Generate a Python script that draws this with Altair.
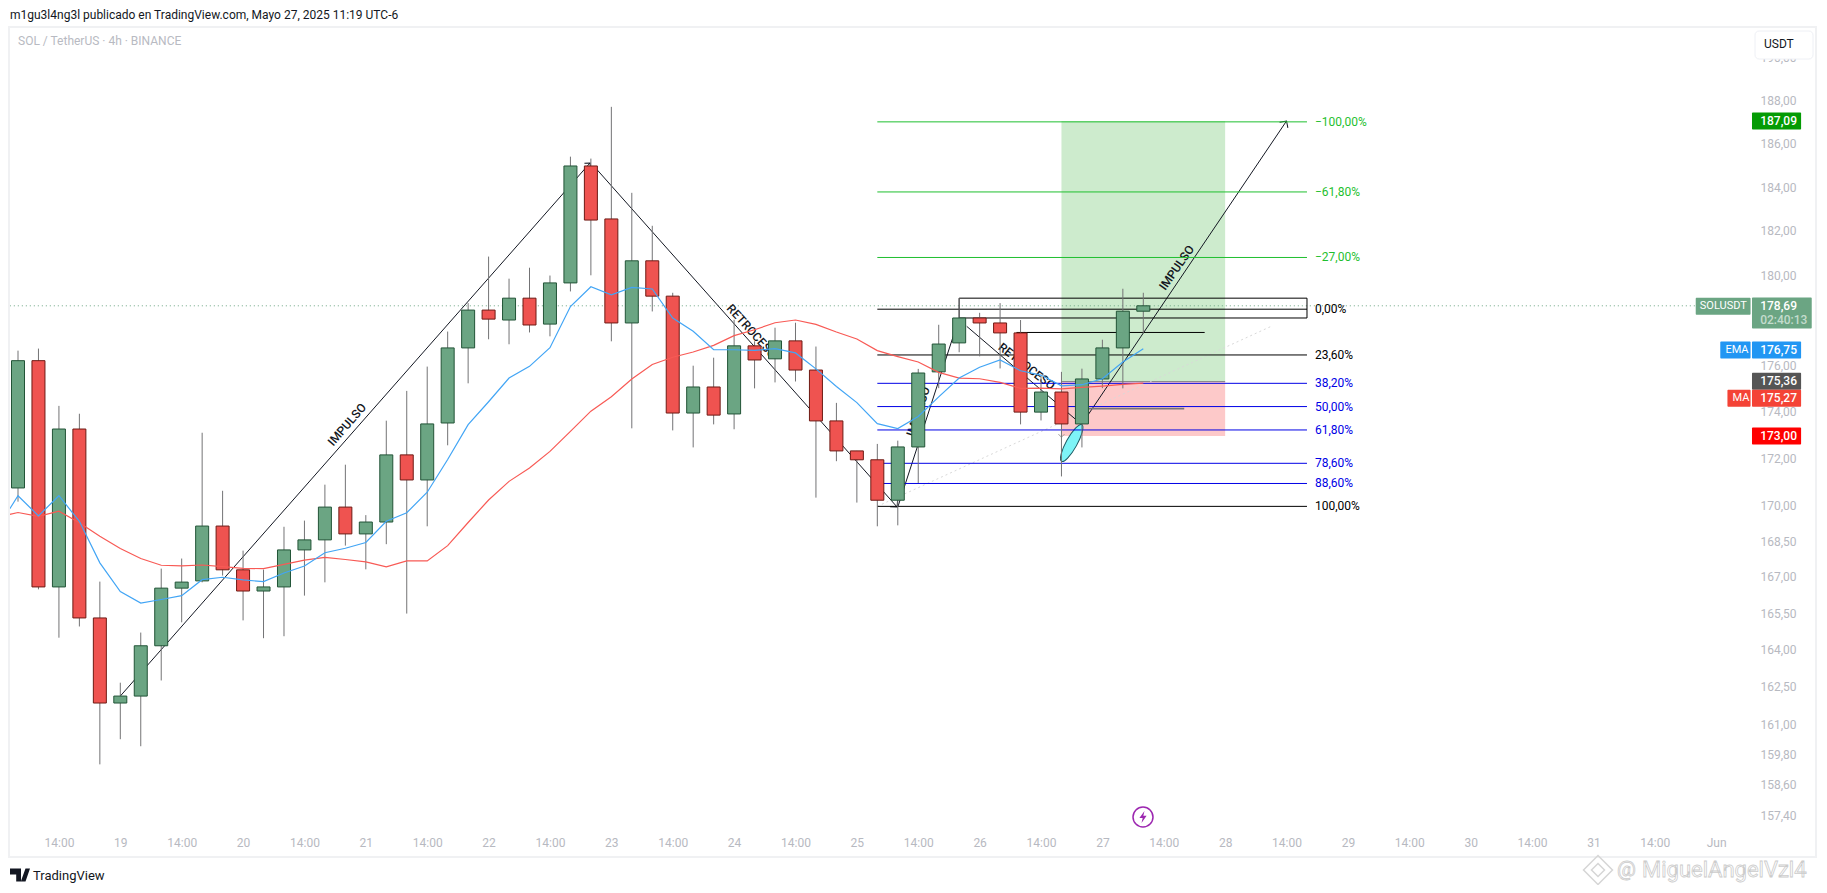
import json
import altair as alt
import pandas as pd

# ---- candles (price values) ----
opens = [170.78,176.27,166.63,173.30,165.35,161.89,162.17,164.21,166.58,166.88,169.17,167.34,166.46,166.63,168.17,168.59,169.97,168.84,169.34,172.19,171.12,173.56,176.83,178.50,178.06,179.03,177.88,179.71,185.01,182.59,177.93,180.70,179.12,173.99,175.12,173.95,176.92,176.35,177.14,175.86,173.65,172.36,171.98,170.26,172.53,175.78,177.05,178.15,177.93,177.49,174.03,174.90,173.52,175.47,176.83,178.45]
closes = [176.27,166.63,173.30,165.35,161.89,162.17,164.21,166.58,166.83,169.17,167.34,166.46,166.63,168.17,168.59,169.97,168.84,169.34,172.19,171.12,173.52,176.83,178.50,178.10,179.03,177.84,179.71,185.01,182.54,177.93,180.70,179.12,173.99,175.12,173.90,176.92,176.30,177.14,175.86,173.65,172.36,171.98,170.26,172.53,175.73,177.00,178.15,177.93,177.49,174.03,174.90,173.52,175.47,176.83,178.45,178.69]
highs = [176.71,176.80,174.30,173.96,166.85,162.71,164.75,167.39,167.81,173.14,170.66,168.14,167.35,169.14,169.40,170.92,171.77,169.63,173.66,174.95,176.01,177.55,178.81,180.89,179.90,180.39,180.04,185.44,185.35,187.75,183.78,182.28,179.27,176.05,176.40,178.07,177.12,177.72,177.94,176.89,174.43,172.36,172.66,172.80,175.91,177.85,179.03,178.38,178.81,178.06,175.61,175.78,175.92,177.19,179.45,179.27]
lows = [170.20,166.53,164.54,165.00,159.44,160.44,160.16,162.80,165.17,166.82,167.10,165.25,164.52,164.60,166.27,166.82,168.35,167.36,168.41,165.53,169.16,172.60,175.28,177.21,176.99,177.51,177.34,179.33,180.05,177.12,173.33,178.44,173.24,172.51,173.50,173.29,175.06,175.32,175.36,170.37,171.92,170.16,169.16,169.20,170.99,175.07,176.64,176.46,175.93,173.50,173.67,171.27,172.51,175.07,175.06,177.49]

# ---- moving averages ----
ema_bars = [-0.4] + list(range(56))
ema = [169.90,170.45,169.60,170.45,169.37,167.63,166.44,165.96,166.11,166.27,166.93,167.03,166.92,166.85,167.21,167.50,168.05,168.24,168.48,169.37,169.73,170.60,171.99,173.49,174.48,175.51,176.02,176.84,178.66,179.54,179.18,179.51,179.44,178.15,177.56,176.75,176.75,176.72,176.80,176.61,175.91,175.14,174.44,173.53,173.32,173.84,174.69,175.51,175.98,176.30,175.83,175.64,175.17,175.22,175.48,176.21,176.79]
ma = [169.66,169.74,169.58,169.80,169.31,168.74,168.23,167.81,167.53,167.50,167.54,167.47,167.40,167.39,167.57,167.74,167.86,167.77,167.67,167.46,167.71,167.71,168.35,169.32,170.27,171.06,171.63,172.34,173.20,174.07,174.70,175.47,176.10,176.42,176.65,176.94,177.37,177.63,177.94,178.06,177.87,177.53,177.22,176.71,176.45,176.21,175.76,175.51,175.48,175.32,175.06,175.07,175.04,175.10,175.16,175.23,175.29]

# ---- fibonacci levels ----
fib_labels = ["−100,00%","−61,80%","−27,00%","0,00%","23,60%","38,20%","50,00%","61,80%","78,60%","88,60%","100,00%"]
fib_prices = [187.05,183.82,180.85,178.54,176.52,175.28,174.27,173.26,171.83,170.97,170.00]
fib_kinds = ["g","g","g","k","k","b","b","b","b","b","k"]

# ---- axes ----
price_ticks = [190,188,186,184,182,180,176,174,172,170,168.5,167,165.5,164,162.5,161,159.8,158.6,157.4]
time_ticks = [2,5,8,11,14,17,20,23,26,29,32,35,38,41,44,47,50,53,56,59,62,65,68,71,74,77,80,83]
time_labels = ["14:00","19","14:00","20","14:00","21","14:00","22","14:00","23","14:00","24","14:00","25","14:00","26","14:00","27","14:00","28","14:00","29","14:00","30","14:00","31","14:00","Jun"]

W, H = 1811, 877
FONT = "Roboto"
xs = alt.Scale(domain=[-0.489, 88.025], nice=False, zero=False, padding=0)
ys = alt.Scale(type="log", domain=[154.73, 192.42], nice=False, zero=False, padding=0)

x_lookup = {str(k): v for k, v in zip(time_ticks, time_labels)}
x_axis = alt.Axis(
    orient="bottom", values=time_ticks, labelExpr=json.dumps(x_lookup) + "[datum.value]", title=None,
    offset=-48, domain=False, ticks=False, grid=False, labelPadding=0, labelFont=FONT, labelFontSize=12,
    labelColor="#b7b9c1", labelOverlap=False, labelFlush=False, labelBound=False, labelBaseline="top")
y_axis = alt.Axis(
    orient="right", values=price_ticks, labelExpr="replace(format(datum.value,'.2f'),'.',',')", title=None,
    offset=-60, domain=False, ticks=False, grid=False, labelPadding=1, labelFont=FONT, labelFontSize=12,
    labelOffset=-1, labelColor="#b7b9c1", labelOverlap=False, labelFlush=False, labelBound=False, labelAlign="left")


def X(f="x"):
    return alt.X(f"{f}:Q", scale=xs, axis=x_axis)


def Y(f="y"):
    return alt.Y(f"{f}:Q", scale=ys, axis=y_axis)


def seg(x0, y0, x1, y1, color="#131722", width=1.0, dash=None):
    d = pd.DataFrame({"x": [x0, x1], "y": [y0, y1]})
    kw = {"strokeDash": dash} if dash else {}
    return alt.Chart(d).mark_line(color=color, strokeWidth=width, **kw).encode(x=X(), y=Y())


def hline(x0, x1, y, color="#131722", width=1.0, dash=None):
    d = pd.DataFrame({"x": [x0], "x2": [x1], "y": [y]})
    kw = {"strokeDash": dash} if dash else {}
    return alt.Chart(d).mark_rule(color=color, strokeWidth=width, **kw).encode(x=X(), x2="x2:Q", y=Y())


def band(x0, x1, y0, y1, **mk):
    d = pd.DataFrame({"x": [x0], "x2": [x1], "y": [y0], "y2": [y1]})
    return alt.Chart(d).mark_rect(**mk).encode(x=X(), x2="x2:Q", y=Y(), y2="y2:Q")


def label(text, x, y, **mk):
    d = pd.DataFrame({"x": [x], "y": [y], "t": [text]})
    mk.setdefault("font", FONT)
    mk.setdefault("fontSize", 12)
    return alt.Chart(d).mark_text(**mk).encode(x=X(), y=Y(), text="t:N")


def arrow(x, y, angle, color="#131722", size=100):
    d = pd.DataFrame({"x": [x], "y": [y]})
    return alt.Chart(d).mark_point(shape="M -1 1 L 0 0 L 1 1", filled=False, color=color, strokeWidth=1,
                                   opacity=1, size=size, angle=angle).encode(x=X(), y=Y())


def chrome(text, px, py, **mk):
    d = pd.DataFrame({"t": [text]})
    mk.setdefault("font", FONT)
    mk.setdefault("fontSize", 12)
    mk.setdefault("align", "left")
    return alt.Chart(d).mark_text(**mk).encode(x=alt.value(px - 8), y=alt.value(py - 8), text="t:N")


def shape(path, px, py, **mk):
    d = pd.DataFrame({"a": [0]})
    return alt.Chart(d).mark_point(shape=path, opacity=1, **mk).encode(x=alt.value(px - 8), y=alt.value(py - 8))


layers = []

# position tool
layers.append(band(51, 59, 187.09, 175.36, fill="#cdebcd"))
layers.append(band(51, 59, 175.36, 173.00, fill="#fdc9c9"))
layers.append(hline(51, 59, 175.36, color="#8a8a8a", width=1))

# ellipse
ell = pd.DataFrame({"x": [51.5], "y": [172.70]})
layers.append(alt.Chart(ell).mark_point(
    shape="M -1 0 A 1 0.26 0 1 1 1 0 A 1 0.26 0 1 1 -1 0 Z", filled=True, fill="#7df4f7", stroke="#1f5a63",
    strokeWidth=1, opacity=1, size=1764, angle=299).encode(x=X(), y=Y()))

# faint dotted guide
layers.append(seg(42, 170.0, 61.2, 177.76, color="#d9d9d9", dash=[2, 3]))

# last price line
layers.append(hline(-0.4, 82.05, 178.69, color="#6ba583", dash=[1, 3]))

# trend lines, their texts and arrows
layers.append(seg(5, 162.17, 27.96, 185.15))
layers.append(arrow(27.96, 185.15, 41, size=64))
layers.append(seg(28.3, 184.84, 42.97, 169.97))
layers.append(arrow(42.97, 169.97, 138))
layers.append(seg(43, 169.97, 46, 178.15))
layers.append(seg(46.37, 177.78, 51.66, 173.74))
layers.append(arrow(51.0, 172.95, 180, color="#9a9a9a", size=36))
layers.append(seg(52, 173.52, 62, 187.09))
layers.append(arrow(62, 187.09, 34))
layers.append(label("IMPULSO", 16.08, 173.49, angle=311, fontSize=12, fontWeight=500, color="#131722"))
layers.append(label("RETROCESO", 35.86, 177.56, angle=48, fontSize=12, fontWeight=500, color="#131722"))
layers.append(label("RETROCESO", 49.3, 176.02, angle=38, fontSize=12, fontWeight=500, color="#131722"))
layers.append(label("IMPULSO", 44, 174.05, angle=288, fontSize=12, fontWeight=500, color="#131722"))
layers.append(label("IMPULSO", 56.63, 180.39, angle=305, fontSize=12, fontWeight=500, color="#131722"))

# fib levels
fib_df = pd.DataFrame({"x": [42] * len(fib_prices), "x2": [63] * len(fib_prices), "lx": [63.39] * len(fib_prices),
                       "y": fib_prices, "t": fib_labels, "k": fib_kinds})
kind_scale = alt.Scale(domain=["g", "k", "b"], range=["#1fbf2f", "#000000", "#0000e6"])
layers.append(alt.Chart(fib_df).mark_rule(strokeWidth=1).encode(
    x=X(), x2="x2:Q", y=Y(), color=alt.Color("k:N", scale=kind_scale, legend=None)))
layers.append(alt.Chart(fib_df).mark_text(font=FONT, fontSize=12, align="left").encode(
    x=X("lx"), y=Y(), text="t:N", color=alt.Color("k:N", scale=kind_scale, legend=None)))

# extra drawn levels
layers.append(hline(48.8, 58, 177.51, color="#000000"))
layers.append(hline(52.3, 57, 174.18, color="#777777", width=1.6))
layers.append(band(46, 63, 179.03, 178.15, fill="transparent", stroke="#000000", strokeWidth=1))

# candles
bars = list(range(len(opens)))
candles = pd.DataFrame({
    "x": bars, "o": opens, "c": closes, "h": highs, "l": lows,
    "d": ["up" if c >= o else "down" for o, c in zip(opens, closes)],
})
layers.append(alt.Chart(candles).mark_rule(color="#737375", strokeWidth=1).encode(x=X(), y=Y("l"), y2="h:Q"))
layers.append(alt.Chart(candles).mark_bar(size=13, strokeWidth=1, opacity=1).encode(
    x=X(), y=Y("o"), y2="c:Q",
    fill=alt.Fill("d:N", scale=alt.Scale(domain=["up", "down"], range=["#6ba583", "#ef5350"]), legend=None),
    stroke=alt.Stroke("d:N", scale=alt.Scale(domain=["up", "down"], range=["#225437", "#6e1a14"]), legend=None),
))

# moving averages
layers.append(alt.Chart(pd.DataFrame({"x": ema_bars, "y": ma})).mark_line(color="#f85a55", strokeWidth=1.2).encode(x=X(), y=Y()))
layers.append(alt.Chart(pd.DataFrame({"x": ema_bars, "y": ema})).mark_line(color="#42a5f5", strokeWidth=1.2).encode(x=X(), y=Y()))

# right hand price tags: (left bar, right bar, price, height, colour)
TAG_L, TAG_R, TAG_WIDE, TAG_TXT = 84.75, 87.15, 87.67, 85.15


def tag(x0, x1, y, h, color):
    d = pd.DataFrame({"x": [x0], "x2": [x1], "y": [y]})
    return alt.Chart(d).mark_rect(height=h, fill=color, cornerRadius=1).encode(x=X(), x2="x2:Q", y=Y())


W_TAG = dict(align="left", color="#ffffff", fontWeight=500)
S_TAG = dict(align="left", color="#ffffff", fontSize=11)
layers += [
    tag(TAG_L, TAG_R, 187.09, 17, "#049b04"), label("187,09", TAG_TXT, 187.09, **W_TAG),
    tag(82.0, 84.68, 178.67, 17, "#6ba583"), label("SOLUSDT", 82.2, 178.67, **S_TAG),
    tag(TAG_L, TAG_WIDE, 178.37, 31, "#6ba583"), label("178,69", TAG_TXT, 178.69, **W_TAG),
    label("02:40:13", TAG_TXT, 178.07, align="left", color="#c4dccd", fontWeight=500),
    tag(83.2, 84.68, 176.74, 17, "#2196f3"), label("EMA", 83.45, 176.74, **S_TAG),
    tag(TAG_L, TAG_R, 176.74, 17, "#2196f3"), label("176,75", TAG_TXT, 176.74, **W_TAG),
    tag(TAG_L, TAG_R, 175.37, 17, "#555555"), label("175,36", TAG_TXT, 175.37, **W_TAG),
    tag(83.55, 84.68, 174.63, 17, "#f44336"), label("MA", 83.8, 174.63, **S_TAG),
    tag(TAG_L, TAG_R, 174.63, 17, "#f44336"), label("175,27", TAG_TXT, 174.63, **W_TAG),
    tag(TAG_L, TAG_R, 173.00, 17, "#ff0000"), label("173,00", TAG_TXT, 173.00, **W_TAG),
]

# frame
frame = pd.DataFrame({"a": [0]})
layers.append(alt.Chart(frame).mark_rect(fill="transparent", stroke="#f0f1f3", strokeWidth=2).encode(
    x=alt.value(9 - 8), x2=alt.value(1816 - 8), y=alt.value(27 - 8), y2=alt.value(857 - 8)))

# USDT button
layers.append(alt.Chart(frame).mark_rect(fill="#ffffff", stroke="#eef0f5", strokeWidth=1, cornerRadius=4).encode(
    x=alt.value(1755 - 8), x2=alt.value(1813 - 8), y=alt.value(31 - 8), y2=alt.value(59 - 8)))
layers.append(chrome("USDT", 1764, 44, color="#131722"))

# header and footer
layers.append(chrome("m1gu3l4ng3l publicado en TradingView.com, Mayo 27, 2025 11:19 UTC-6", 10, 15, color="#131722"))
layers.append(chrome("SOL / TetherUS · 4h · BINANCE", 18, 41, color="#b8bac2"))
layers.append(chrome("TradingView", 33, 876, color="#131722", fontSize=13))
layers.append(shape("M -1 -0.65 L 0.1 -0.65 L 0.1 0.65 L -0.38 0.65 L -0.38 -0.05 L -1 -0.05 Z M 0.55 -0.65 L 1 -0.65 L 0.55 0.65 L 0.08 0.65 Z",
                    20, 875, filled=True, fill="#131722", size=400))

# purple bolt
layers.append(shape("circle", 1143, 817, filled=False, stroke="#9c27b0", strokeWidth=1.5, size=400))
layers.append(shape("M 0.25 -1 L -0.6 0.15 L -0.05 0.15 L -0.25 1 L 0.6 -0.2 L 0.05 -0.2 Z", 1143, 817,
                    filled=True, fill="#9c27b0", size=144))

# watermark
layers.append(chrome("@", 1617, 870, font="Roboto", fontSize=21, fill="#ffffff", stroke="#cccccc", strokeWidth=0.8))
layers.append(chrome("MiguelAngelVzl4", 1642, 870, font="Roboto", fontSize=22, fill="#ffffff", stroke="#cccccc", strokeWidth=0.8))
layers.append(shape("M 0 -1 L 1 0 L 0 1 L -1 0 Z M 0 -0.45 L 0.45 0 L 0 0.45 L -0.45 0 Z", 1598, 870, filled=False, stroke="#d6d6d6", strokeWidth=1.5, size=840))

chart = alt.layer(*layers).properties(
    width=W, height=H, padding=0, background="#ffffff",
    autosize=alt.AutoSizeParams(type="none"),
).configure_view(strokeWidth=0)

chart.save("out.html", embed_options={"renderer": "svg", "actions": False})
